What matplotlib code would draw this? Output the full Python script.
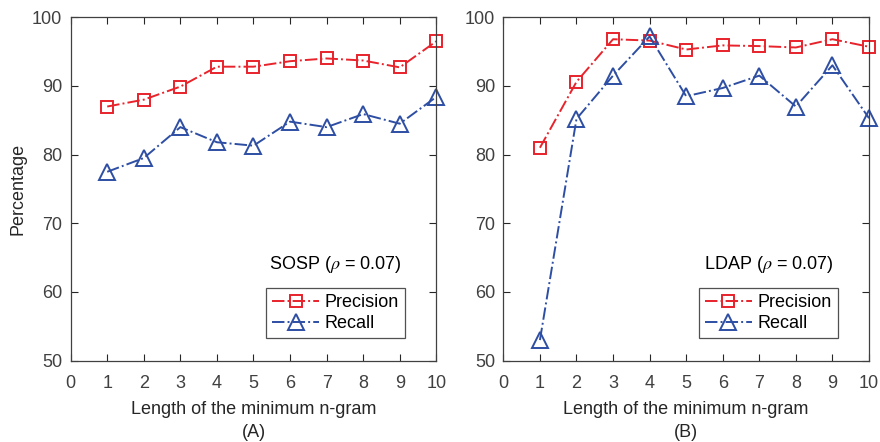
import matplotlib.pyplot as plt

plt.rcParams['font.family'] = ['Liberation Sans', 'DejaVu Sans']
plt.rcParams['mathtext.fontset'] = 'stix'

ngram = [1, 2, 3, 4, 5, 6, 7, 8, 9, 10]

sosp_precision = [87.0, 88.0, 89.9, 92.8, 92.8, 93.6, 94.0, 93.7, 92.7, 96.5]
sosp_recall = [77.5, 79.5, 84.0, 81.8, 81.3, 84.8, 84.0, 85.9, 84.5, 88.4]

ldap_precision = [81.0, 90.6, 96.8, 96.6, 95.3, 95.9, 95.8, 95.6, 96.8, 95.7]
ldap_recall = [53.0, 85.2, 91.5, 97.2, 88.5, 89.7, 91.5, 87.0, 93.0, 85.3]

panels = [
    ('SOSP', sosp_precision, sosp_recall, '(A)'),
    ('LDAP', ldap_precision, ldap_recall, '(B)'),
]

red = '#e8232b'
blue = '#2d4ea3'
axcol = '#262626'

fig = plt.figure(figsize=(8.8, 4.42), dpi=100)
lefts = [0.0803, 0.572]

for i, (name, prec, rec, tag) in enumerate(panels):
    ax = fig.add_axes([lefts[i], 0.184, 0.4155, 0.777])
    ax.plot(ngram, prec, '-.', color=red, marker='s', markersize=8,
            markerfacecolor='none', markeredgewidth=1.4, linewidth=1.4,
            label='Precision', clip_on=False)
    ax.plot(ngram, rec, '-.', color=blue, marker='^', markersize=11,
            markerfacecolor='none', markeredgewidth=1.4, linewidth=1.4,
            label='Recall', clip_on=False)
    ax.set_xlim(0, 10)
    ax.set_ylim(50, 100)
    ax.set_xticks(range(0, 11))
    ax.set_yticks(range(50, 101, 10))
    ax.tick_params(direction='in', top=True, right=True, length=5,
                   colors=axcol, labelsize=13, labelcolor='#404040')
    ax.tick_params(axis='x', pad=10)
    ax.tick_params(axis='y', pad=6)
    for sp in ax.spines.values():
        sp.set_color('#404040')
        sp.set_linewidth(0.9)
    ax.set_xlabel('Length of the minimum n-gram\n' + tag, fontsize=13,
                  color=axcol, linespacing=1.45, labelpad=7)
    if i == 0:
        ax.set_ylabel('Percentage', fontsize=13, color=axcol)
    ax.text(0.725, 0.28, name + r' ($\rho$ = 0.07)', transform=ax.transAxes,
            ha='center', va='center', fontsize=13, color='black')
    leg = ax.legend(loc='lower right', bbox_to_anchor=(0.915, 0.065),
                    fontsize=13, frameon=True, fancybox=False,
                    handlelength=2.6, handletextpad=0.3, borderpad=0.35,
                    labelspacing=0.2, borderaxespad=0)
    leg.get_frame().set_edgecolor(axcol)
    leg.get_frame().set_linewidth(0.9)

fig.savefig('out.png', dpi=100)
